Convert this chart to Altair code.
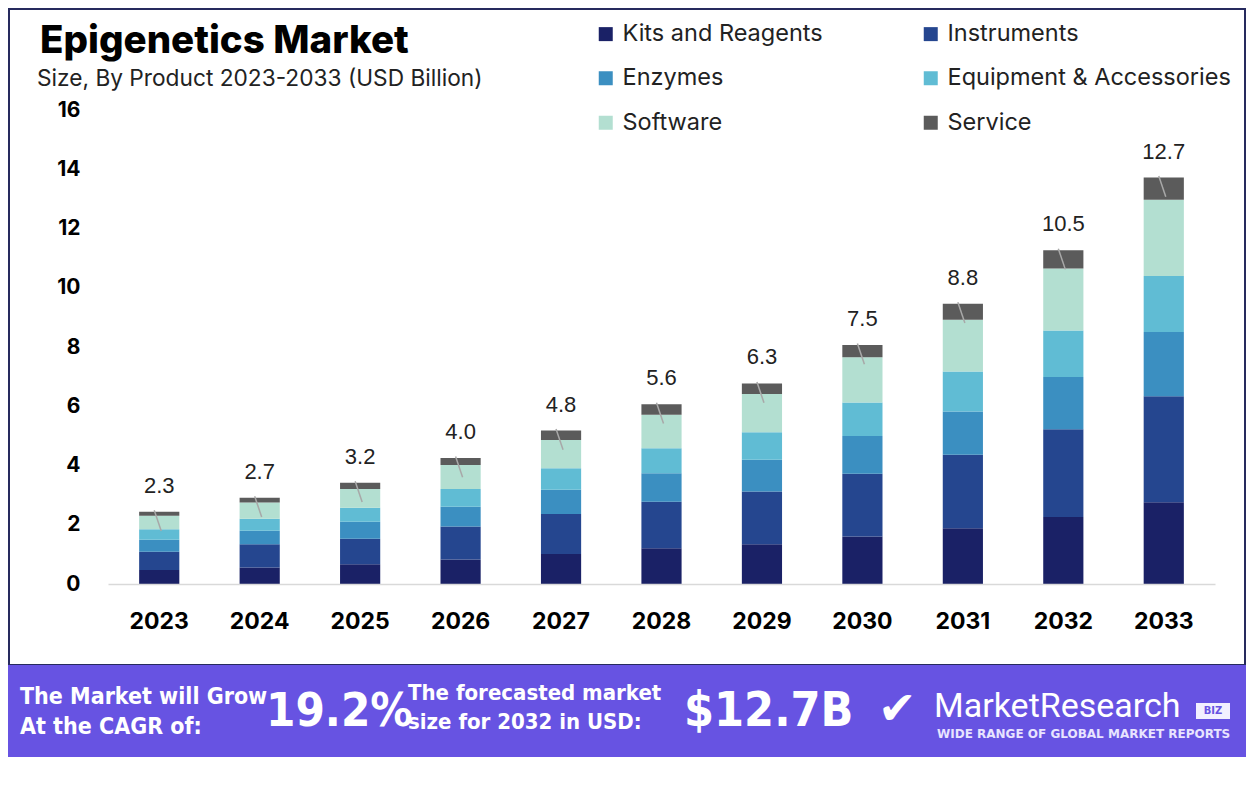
import altair as alt
import pandas as pd

years = ["2023", "2024", "2025", "2026", "2027", "2028", "2029", "2030", "2031", "2032", "2033"]
segments = ["Kits and Reagents", "Instruments", "Enzymes", "Equipment & Accessories", "Software", "Service"]
colors = ["#1A2166", "#25468F", "#3B8FC1", "#60BCD4", "#B3DFD1", "#5B5B5B"]

kits = [0.47, 0.56, 0.67, 0.83, 1.01, 1.21, 1.34, 1.60, 1.88, 2.26, 2.76]
instruments = [0.62, 0.78, 0.86, 1.11, 1.35, 1.57, 1.78, 2.12, 2.48, 2.96, 3.58]
enzymes = [0.40, 0.46, 0.57, 0.67, 0.82, 0.96, 1.07, 1.28, 1.46, 1.77, 2.17]
equipment = [0.36, 0.40, 0.47, 0.60, 0.73, 0.84, 0.93, 1.13, 1.35, 1.57, 1.89]
software = [0.45, 0.55, 0.64, 0.81, 0.95, 1.13, 1.29, 1.52, 1.75, 2.09, 2.57]
service = [0.14, 0.16, 0.21, 0.23, 0.32, 0.36, 0.36, 0.42, 0.54, 0.62, 0.75]
labels = ["2.3", "2.7", "3.2", "4.0", "4.8", "5.6", "6.3", "7.5", "8.8", "10.5", "12.7"]

series = [kits, instruments, enzymes, equipment, software, service]
rows = []
for si, (name, vals) in enumerate(zip(segments, series)):
    for y, v in zip(years, vals):
        rows.append({"year": y, "segment": name, "value": v, "idx": si})
df = pd.DataFrame(rows)

totals = [sum(s[i] for s in series) for i in range(len(years))]
tot_df = pd.DataFrame({"year": years, "total": totals, "label": labels,
                       "top": [t + 0.05 for t in totals], "low": [t - 0.65 for t in totals]})

W, H = 1107, 474
OX, OY = 108, 110  # page position of plot origin

x_enc = alt.X("year:N", sort=years,
              scale=alt.Scale(paddingInner=0.6, paddingOuter=0.31),
              axis=alt.Axis(title=None, labelAngle=0, labelFont="Inter", labelFontSize=23,
                            labelFontWeight="bold", labelColor="#000000", labelPadding=26,
                            ticks=False, tickSize=0, domainColor="#D9D9D9", domainWidth=1.5,
                            zindex=1))

bars = alt.Chart(df).mark_bar().encode(
    x=x_enc,
    y=alt.Y("value:Q", stack="zero", scale=alt.Scale(domain=[0, 16], nice=False),
            axis=alt.Axis(title=None, values=[0, 2, 4, 6, 8, 10, 12, 14, 16], grid=False,
                          domain=False, ticks=False, tickSize=0, labelPadding=28,
                          labelFont="Inter", labelFontSize=21, labelFontWeight="bold",
                          labelColor="#000000", zindex=1)),
    color=alt.Color("segment:N", scale=alt.Scale(domain=segments, range=colors),
                    legend=alt.Legend(title=None, orient="none", legendX=486, legendY=-88,
                                      direction="horizontal", columns=2, columnPadding=96,
                                      rowPadding=19.5,
                                      symbolType="square", symbolSize=196, symbolStrokeWidth=0,
                                      labelFont="Inter", labelFontSize=23.5, labelColor="#222222",
                                      labelOffset=5, padding=0, labelLimit=400)),
    order=alt.Order("idx:Q"),
)

value_labels = alt.Chart(tot_df).mark_text(
    font="Liberation Sans", fontSize=22, color="#222222", baseline="bottom", dy=-14
).encode(x=alt.X("year:N", sort=years), y=alt.Y("total:Q"), text="label:N")

leaders = alt.Chart(tot_df).mark_rule(color="#A8A8A8", strokeWidth=1.5, xOffset=-5, x2Offset=2).encode(
    x=alt.X("year:N", sort=years), x2=alt.X2("year:N"), y="top:Q", y2="low:Q")

one = pd.DataFrame({"a": [0]})


def box(x1, y1, x2, y2, **kw):
    return alt.Chart(one).mark_rect(**kw).encode(
        x=alt.value(x1 - OX), x2=alt.value(x2 - OX), y=alt.value(y1 - OY), y2=alt.value(y2 - OY))


def txt(s, px, py, **kw):
    return alt.Chart(one).mark_text(text=s, **kw).encode(x=alt.value(px - OX), y=alt.value(py - OY))


frame = box(9, 9, 1245, 665, fill="transparent", stroke="#262A5E", strokeWidth=2)
banner = box(8, 665, 1246, 757, fill="#6753E2")

cond = "Liberation Sans Narrow, DejaVu Sans Condensed, Roboto"
texts = [
    txt("Epigenetics Market", 40, 41, font="Inter", fontSize=38.5, fontWeight=800, color="#000000",
        align="left", baseline="middle"),
    txt("Size, By Product 2023-2033 (USD Billion)", 37, 79, font="Inter", fontSize=22.7,
        color="#222222", align="left", baseline="middle"),
    txt("The Market will Grow", 20, 697, font=cond, fontSize=23, fontWeight="bold", color="#FFFFFF",
        align="left", baseline="middle"),
    txt("At the CAGR of:", 20, 727, font=cond, fontSize=23, fontWeight="bold", color="#FFFFFF",
        align="left", baseline="middle"),
    txt("19.2%", 266, 712, font=cond, fontSize=47, fontWeight="bold", color="#FFFFFF",
        align="left", baseline="middle"),
    txt("The forecasted market", 408, 693, font=cond, fontSize=22, fontWeight="bold", color="#FFFFFF",
        align="left", baseline="middle"),
    txt("size for 2032 in USD:", 408, 722, font=cond, fontSize=22, fontWeight="bold", color="#FFFFFF",
        align="left", baseline="middle"),
    txt("$12.7B", 684, 712, font=cond, fontSize=48, fontWeight="bold", color="#FFFFFF",
        align="left", baseline="middle"),
    txt("\u2714", 878, 710, font="DejaVu Sans", fontSize=46, color="#FFFFFF",
        align="left", baseline="middle"),
    txt("MarketResearch", 934, 707, font="Roboto", fontSize=34, color="#FFFFFF",
        align="left", baseline="middle"),
    txt("WIDE RANGE OF GLOBAL MARKET REPORTS", 937, 734, font="DejaVu Sans", fontSize=12,
        fontWeight="bold", color="#E8E4FF", align="left", baseline="middle"),
    txt("BIZ", 1213, 711, font="DejaVu Sans", fontSize=10, fontWeight="bold", color="#6753E2",
        align="center", baseline="middle"),
]
biz_box = box(1196, 703, 1230, 719, fill="#F2F0FF")

chart = alt.layer(frame, banner, biz_box, bars, leaders, value_labels, *texts).properties(
    width=W, height=H,
    autosize=alt.AutoSizeParams(type="none"),
    padding={"left": OX - 8, "top": OY - 8, "right": 31, "bottom": 176},
    background="#FFFFFF",
).configure_view(stroke=None)

chart.save("out.html", embed_options={"renderer": "svg", "actions": False})
